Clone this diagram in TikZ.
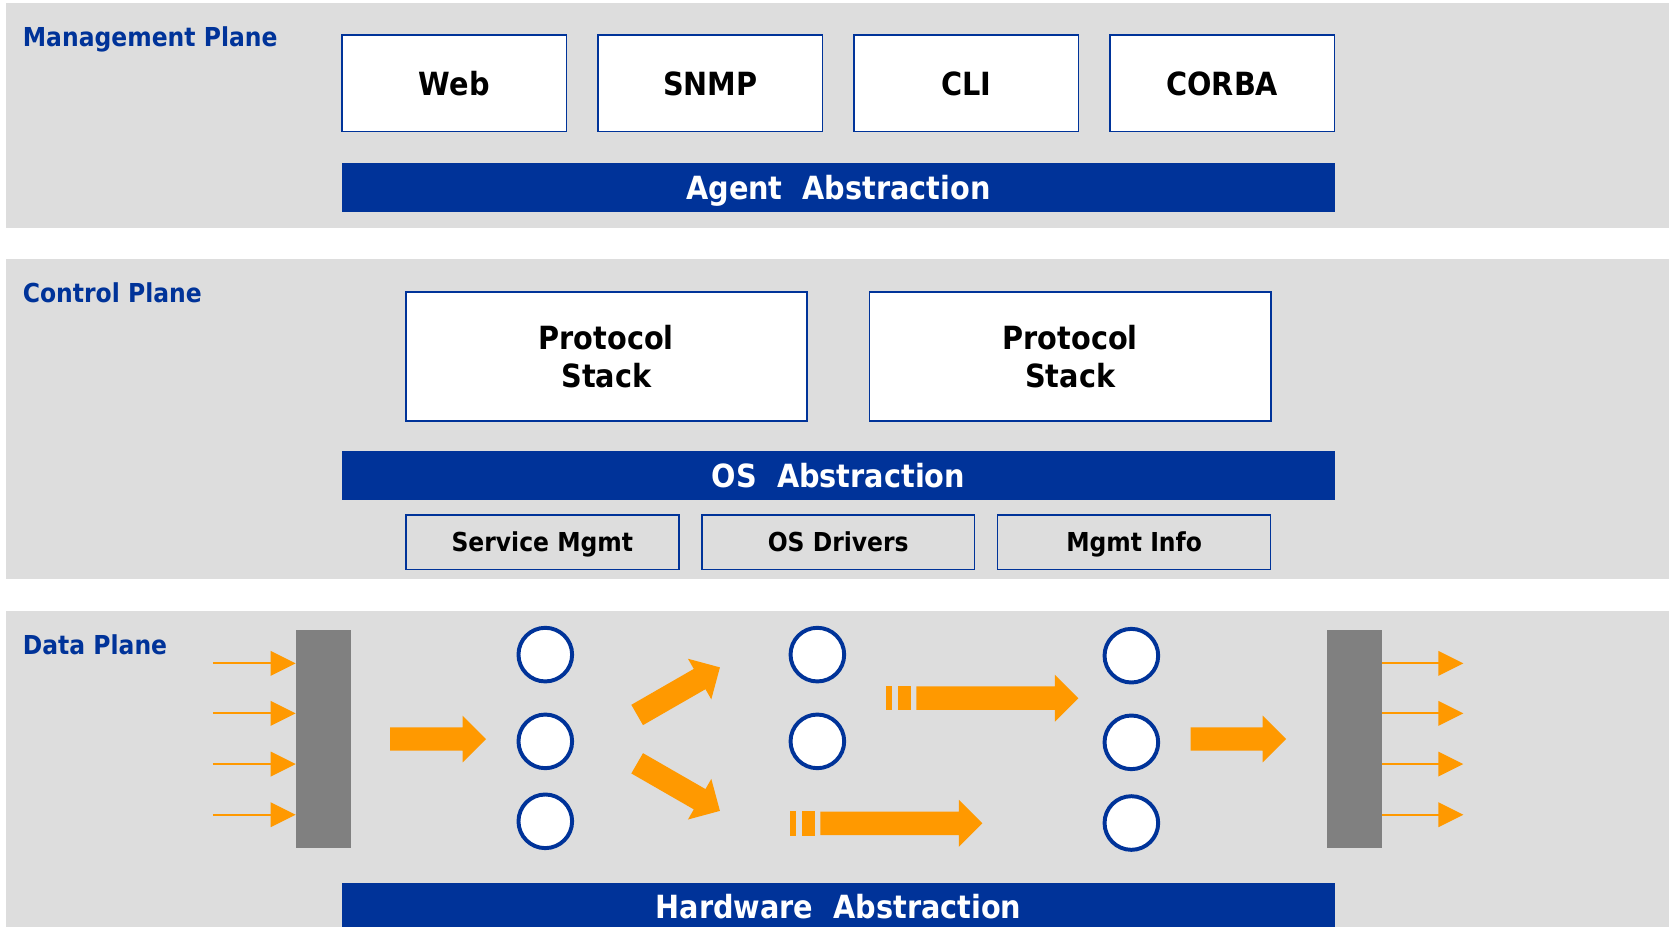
\documentclass[tikz,border=0pt]{standalone}
\usepackage{fontspec}
\setmainfont{DejaVu Sans}[FakeStretch=0.9]
\usetikzlibrary{arrows.meta}
\definecolor{panelgray}{HTML}{DDDDDD}
\definecolor{planeblue}{HTML}{003399}
\definecolor{flow}{HTML}{FF9900}
\definecolor{portgray}{HTML}{808080}
\tikzset{
  panel/.style={fill=panelgray, draw=none},
  planelabel/.style={anchor=base west, text=planeblue, inner sep=0pt,
    font=\bfseries\fontsize{24.5}{29}\selectfont},
  module/.style={draw=planeblue, line width=1.5pt, fill=white, inner sep=0pt,
    align=center, font=\bfseries\fontsize{30}{36}\selectfont},
  oneline/.style={text height=21.9pt, text depth=-3pt},
  service/.style={draw=planeblue, line width=1.5pt, inner sep=0pt,
    minimum width=256.4pt, minimum height=51.1pt,
    text height=17.9pt, text depth=-2.5pt,
    font=\bfseries\fontsize{24.5}{29}\selectfont},
  layerbar/.style={fill=planeblue, text=white, inner sep=0pt,
    minimum width=932.9pt, minimum height=45.4pt,
    text height=21.9pt, text depth=-1.5pt,
    font=\bfseries\fontsize{30}{36}\selectfont},
  port/.style={fill=portgray, draw=none, inner sep=0pt,
    minimum width=51.8pt, minimum height=205pt},
  pkt/.style={circle, draw=planeblue, line width=3.7pt, fill=white,
    inner sep=0pt, minimum size=50.4pt},
  thinflow/.style={draw=flow, line width=1.8pt,
    -{Triangle[length=23.5pt, width=23pt]}},
  pics/fatarrow/.style={code={
    \fill[flow] (0,-11) -- ({#1-22},-11) -- ({#1-22},-22) -- (#1,0)
      -- ({#1-22},22) -- ({#1-22},11) -- (0,11) -- cycle;}},
}
\begin{document}
\begin{tikzpicture}[x=1pt, y=-1pt]
\useasboundingbox (0,0) rectangle (1568,870);
\begin{scope}
\clip (0,0) rectangle (1568,870);

% plane backgrounds
\fill[panel] (5.6,2.8) rectangle (1570,214.5);
\fill[panel] (5.6,243.3) rectangle (1570,544.3);
\fill[panel] (5.6,573.7) rectangle (1570,880);

\node[planelabel] (mgmtlbl) at (21.3,43.5) {Management Plane};
\node[planelabel] (ctrllbl) at (21.3,284) {Control Plane};
\node[planelabel] (datalbl) at (21.3,614.7) {Data Plane};

% management plane
\node[module, oneline, minimum width=211pt, minimum height=90.8pt] (web)   at (426.8,78.3)  {Web};
\node[module, oneline, minimum width=211pt, minimum height=90.8pt] (snmp)  at (667.3,78.3)  {SNMP};
\node[module, oneline, minimum width=211pt, minimum height=90.8pt] (cli)   at (907.8,78.3)  {CLI};
\node[module, oneline, minimum width=211pt, minimum height=90.8pt] (corba) at (1148.3,78.3) {CORBA};
\node[layerbar] (agent) at (787.75,176.2) {Agent\ \ Abstraction};

% control plane
\node[module, minimum width=376.9pt, minimum height=121.2pt] (stackA) at (569.6,335)  {Protocol\\Stack};
\node[module, minimum width=376.9pt, minimum height=121.2pt] (stackB) at (1005.5,335) {Protocol\\Stack};
\node[layerbar] (osabs) at (787.75,446.6) {OS\ \ Abstraction};
\node[service] (svc)  at (509.5,509.4)  {Service Mgmt};
\node[service] (drv)  at (787.5,509.4)  {OS Drivers};
\node[service] (info) at (1065.5,509.4) {Mgmt Info};

% data plane: ingress and egress ports
\node[port] (inport)  at (303.9,694.5)  {};
\node[port] (outport) at (1272.5,694.5) {};

\foreach \i/\y in {1/623.2, 2/670.2, 3/717.8, 4/765.4} {
  \coordinate (src\i) at (200,\y);
  \coordinate (dst\i) at (1374.8,\y);
  \draw[thinflow] (src\i) -- (src\i -| inport.west);
  \draw[thinflow] (dst\i -| outport.east) -- (dst\i);
}

% packet queues
\node[pkt] (q11) at (512.3,615)   {};
\node[pkt] (q12) at (512.3,696.5) {};
\node[pkt] (q13) at (512.3,771.6) {};
\node[pkt] (q21) at (767.9,615)   {};
\node[pkt] (q22) at (767.9,696.5) {};
\node[pkt] (q31) at (1062.9,616)   {};
\node[pkt] (q32) at (1062.9,697.4) {};
\node[pkt] (q33) at (1062.9,773.2) {};

% packet flow
\pic at (366.4,694.3) {fatarrow=90.2};
\pic[rotate=29.9]  at (598.6,671.7) {fatarrow=89.7};
\pic[rotate=-29.9] at (598.6,717.1) {fatarrow=89.7};
\fill[flow] (832.4,644.5) rectangle (838.1,667.3);
\fill[flow] (843.6,644.5) rectangle (855.9,667.3);
\pic at (860.9,655.9) {fatarrow=152.2};
\fill[flow] (742.2,762) rectangle (747.8,785);
\fill[flow] (753.5,762) rectangle (765.7,785);
\pic at (770.7,773.5) {fatarrow=152.2};
\pic at (1118.6,694.3) {fatarrow=89.6};

\node[layerbar] (hwabs) at (787.75,851.9) {Hardware\ \ Abstraction};
\end{scope}
\end{tikzpicture}
\end{document}
